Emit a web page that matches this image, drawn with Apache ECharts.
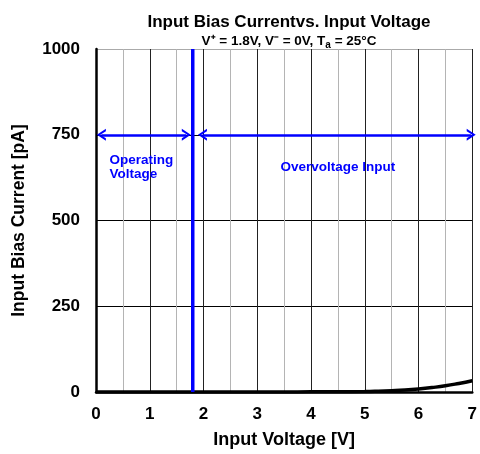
<!DOCTYPE html>
<html><head><meta charset="utf-8">
<script src="https://cdn.jsdelivr.net/npm/echarts@6/dist/echarts.min.js"></script>
<style>html,body{margin:0;padding:0;background:#fff}#c{width:480px;height:454px}</style>
</head><body><div id="c"></div>
<script>
const voltage = [0, 0.5, 1, 1.5, 2, 2.5, 3, 3.5, 4, 4.5, 5, 5.25, 5.5, 5.75, 6, 6.25, 6.5, 6.75, 7];
const biasCurrent = [0, 0, 0, 0, 0, 0, 0, 0.2, 0.4, 0.8, 1.5, 2.5, 4, 6, 9, 13, 18, 25, 33];
const supplyVoltage = 1.8;
const yTicks = [0, 250, 500, 750, 1000];
const operatingArrow = [0.1, 1.68];
const overvoltageArrow = [1.98, 6.98];
const arrowLevel = 750;

const F = 'Liberation Sans, Arial, sans-serif';
const chevron = 'path://M0,10 L6,0 L12,10 L9.4,10 L6,3.8 L2.6,10 Z';
const chart = echarts.init(document.getElementById('c'), null, {renderer: 'canvas'});
chart.setOption({
  animation: false,
  backgroundColor: '#fff',
  title: [{
    text: 'Input Bias Currentvs. Input Voltage',
    left: 284, top: 9, textAlign: 'center',
    textStyle: {fontFamily: F, fontSize: 17, fontWeight: 'bold', color: '#000'}
  }, {
    text: 'V⁺ = 1.8V, V⁻ = 0V, T{sub|a} = 25°C',
    left: 284, top: 28, textAlign: 'center',
    textStyle: {fontFamily: F, fontSize: 13.5, fontWeight: 'bold', color: '#000',
      rich: {sub: {fontFamily: F, fontSize: 10, fontWeight: 'bold', verticalAlign: 'bottom', padding: [7, 0, 0, 0]}}}
  }],
  grid: {left: 96, right: 5, top: 49, bottom: 60, containLabel: false},
  xAxis: {
    type: 'value', min: 0, max: 7, interval: 1,
    name: 'Input Voltage [V]', nameLocation: 'middle', nameGap: 39,
    nameTextStyle: {fontFamily: F, fontSize: 18, fontWeight: 'bold', color: '#000'},
    axisLine: {show: true, onZero: false, lineStyle: {color: '#000', width: 2.5}},
    axisTick: {show: false},
    axisLabel: {fontFamily: F, fontSize: 17, fontWeight: 'bold', color: '#000', margin: 14},
    splitLine: {show: true, lineStyle: {color: '#222', width: 1}},
    minorTick: {show: false, splitNumber: 2},
    minorSplitLine: {show: true, lineStyle: {color: '#b4b4b4', width: 1}}
  },
  yAxis: {
    type: 'value', min: 0, max: 1000, interval: 250,
    name: 'Input Bias Current [pA]', nameLocation: 'middle', nameGap: 68,
    nameTextStyle: {fontFamily: F, fontSize: 17.5, fontWeight: 'bold', color: '#000'},
    axisLine: {show: true, lineStyle: {color: '#000', width: 2.5}},
    axisTick: {show: false},
    axisLabel: {fontFamily: F, fontSize: 17, fontWeight: 'bold', color: '#000', margin: 16,
      formatter: v => yTicks.includes(v) ? String(v) : ''},
    splitLine: {show: true, lineStyle: {color: ['#000', '#000', '#000', '#000', '#aaa'], width: 1}}
  },
  series: [{
    type: 'line', data: voltage.map((v, i) => [v, biasCurrent[i]]),
    smooth: true, showSymbol: false, lineStyle: {color: '#000', width: 3.5}, z: 5
  }, {
    type: 'line', data: [[supplyVoltage, 0], [supplyVoltage, 1000]],
    showSymbol: false, lineStyle: {color: '#0000ff', width: 3.5}, z: 6
  }, {
    type: 'line', data: [],
    markLine: {
      silent: true, symbol: [chevron, chevron], symbolSize: [12, 9],
      lineStyle: {color: '#0000ff', width: 2.5, type: 'solid'},
      itemStyle: {color: '#0000ff'},
      label: {show: false},
      data: [
        [{coord: [operatingArrow[0], arrowLevel]}, {coord: [operatingArrow[1], arrowLevel]}],
        [{coord: [overvoltageArrow[0], arrowLevel]}, {coord: [overvoltageArrow[1], arrowLevel]}]
      ]
    },
    markPoint: {
      silent: true, symbol: 'rect', symbolSize: 1, itemStyle: {color: 'rgba(0,0,0,0)'},
      data: [
        {coord: [0.24, 654], label: {show: true, formatter: 'Operating\nVoltage', position: 'right', distance: 0,
          fontFamily: F, fontSize: 13.5, fontWeight: 'bold', color: '#0000ff', lineHeight: 14, align: 'left'}},
        {coord: [4.5, 655], label: {show: true, formatter: 'Overvoltage Input', position: 'inside',
          fontFamily: F, fontSize: 13.5, fontWeight: 'bold', color: '#0000ff'}}
      ]
    }
  }]
});
</script></body></html>
